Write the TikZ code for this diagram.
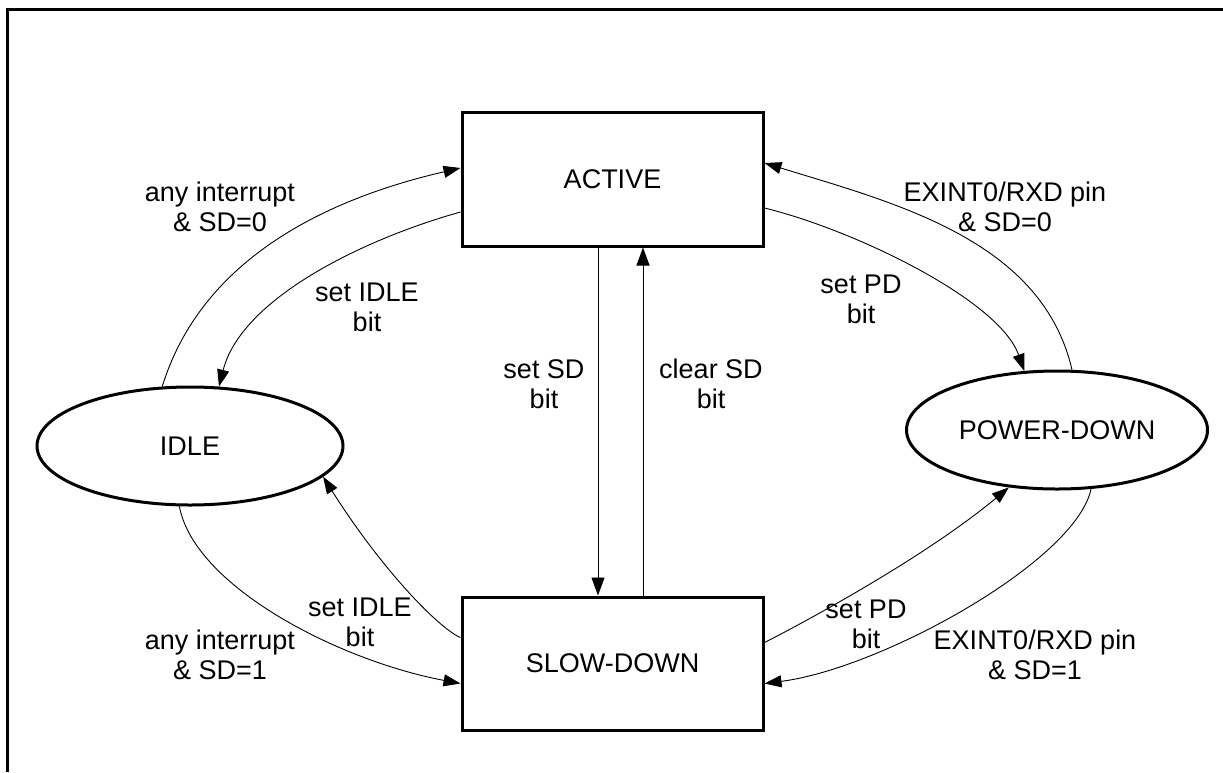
\documentclass[tikz,border=0pt]{standalone}
\usepackage{fontspec}
\setmainfont{Liberation Sans}
\usetikzlibrary{arrows.meta,shapes.geometric}
\begin{document}
\begin{tikzpicture}[x=1pt,y=-1pt,
  state/.style={draw,line width=3pt,rectangle,minimum width=301pt,minimum height=134pt,font=\fontsize{27pt}{30pt}\selectfont},
  oval/.style={draw,line width=3pt,ellipse,inner sep=0pt,font=\fontsize{27pt}{30pt}\selectfont},
  lbl/.style={align=center,inner sep=0pt,font=\fontsize{27pt}{30pt}\selectfont},
  conn/.style={line width=0.9pt,-{Triangle[length=17pt,width=12pt]}},
  vconn/.style={line width=0.9pt,-{Triangle[length=18pt,width=13pt]}}]
\useasboundingbox (0,0) rectangle (1223,772);
\draw[line width=3pt] (7,772) -- (7,9) -- (1223,9);

\node[state] (active) at (612.5,179) {ACTIVE};
\node[state,minimum height=133pt] (slow) at (612.5,663.5) {SLOW-DOWN};
\node[oval,minimum width=306pt,minimum height=118pt] (idle) at (190,446) {IDLE};
\node[oval,minimum width=301pt,minimum height=118pt] (pd) at (1057,430) {POWER-DOWN};

% upper left
\draw[conn] (idle.115) .. controls +(40,-130) and +(-130,30) .. ([yshift=11pt]active.west);
\draw[conn] ([yshift=-33pt]active.west) .. controls +(-100,28) and +(22,-87) .. (idle.64);
% upper right
\draw[conn] (pd.76) .. controls +(-30,-130) and +(130,40) .. ([yshift=16pt]active.east);
\draw[conn] ([yshift=-29pt]active.east) .. controls +(90,22) and +(-25,-71) .. (pd.119);
% lower left
\draw[conn] (idle.260) .. controls +(15,80) and +(-122,-23) .. ([yshift=-20pt]slow.west);
\draw[conn] ([yshift=26pt]slow.west) .. controls +(-20,-8) and +(60,95) .. (idle.-13);
% lower right
\draw[conn] ([yshift=21pt]slow.east) .. controls +(20,-10) and +(-90,75) .. (pd.230);
\draw[conn] (pd.300) .. controls +(-15,72) and +(117,-15) .. ([yshift=-20pt]slow.east);
% vertical
\draw[vconn] ([xshift=-14.5pt]active.south) -- ([xshift=-14.5pt]slow.north);
\draw[vconn] ([xshift=30.5pt]slow.north) -- ([xshift=30.5pt]active.south);

\node[lbl] (l1) at (220,207) {any interrupt\\\& SD=0};
\node[lbl] (l2) at (367,307) {set IDLE\\bit};
\node[lbl] (l3) at (1005,207) {EXINT0/RXD pin\\\& SD=0};
\node[lbl] (l4) at (861,299) {set PD\\bit};
\node[lbl] (l5) at (544,384) {set SD\\bit};
\node[lbl] (l6) at (711,384) {clear SD\\bit};
\node[lbl] (l7) at (360,622) {set IDLE\\bit};
\node[lbl] (l8) at (866,624) {set PD\\bit};
\node[lbl] (l9) at (220,655) {any interrupt\\\& SD=1};
\node[lbl] (l10) at (1035,655) {EXINT0/RXD pin\\\& SD=1};
\end{tikzpicture}
\end{document}
